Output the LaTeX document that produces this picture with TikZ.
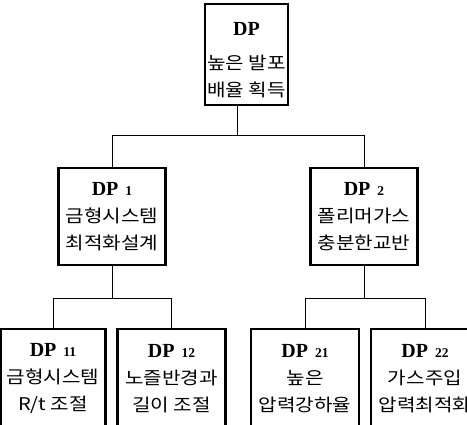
\documentclass[tikz,border=0pt]{standalone}
\usepackage{fontspec}
\setmainfont{Liberation Serif}
\newfontfamily\kr[FakeStretch=1.15]{Noto Sans CJK KR}
\newcommand{\dptitle}[1]{{\rmfamily\fontsize{20}{20}\selectfont\bfseries DP\ifx&#1&\else\hspace{7pt}{\fontsize{13.5}{13.5}\selectfont #1}\fi}}
\tikzset{
  box/.style={draw, line width=2.4pt, inner sep=0pt, align=center, anchor=north,
    font=\fontsize{17.5}{27}\selectfont\kr},
  link/.style={line width=0.9pt}
}
\begin{document}
\begin{tikzpicture}[x=1pt,y=-1pt]
\useasboundingbox (0,0) rectangle (467,425);
\node[box, minimum width=83pt, minimum height=101pt] (top) at (246.5,3)
  {\rule{0pt}{24pt}\dptitle{}\\[7pt] 높은 발포\\ 배율 획득};
\node[box, minimum width=107pt, minimum height=97pt] (dp1) at (112,167)
  {\dptitle{1}\\[0pt] 금형시스템\\ 최적화설계};
\node[box, minimum width=107pt, minimum height=97pt] (dp2) at (364,167)
  {\dptitle{2}\\[0pt] 폴리머가스\\ 충분한교반};
\node[box, minimum width=105pt, minimum height=98pt] (dp11) at (53,328)
  {\dptitle{11}\\[0pt] 금형시스템\\ R/t 조절};
\node[box, minimum width=108pt, minimum height=98pt] (dp12) at (171.5,328)
  {\dptitle{12}\\[0pt] 노즐반경과\\ 길이 조절};
\node[box, minimum width=108pt, minimum height=98pt] (dp21) at (305,328)
  {\dptitle{21}\\[0pt] 높은\\ 압력강하율};
\node[box, minimum width=108pt, minimum height=98pt] (dp22) at (425,328)
  {\dptitle{22}\\[0pt] 가스주입\\ 압력최적화};
\coordinate (j0) at (237,135);
\coordinate (j1) at (112,298);
\coordinate (j2) at (364,298);
\draw[link] (j0 |- top.south) -- (j0);
\draw[link] (dp1.north) -- (dp1.north |- j0) -- (dp2.north |- j0) -- (dp2.north);
\draw[link] (dp1.south) -- (j1);
\draw[link] (dp11.north) -- (dp11.north |- j1) -- (dp12.north |- j1) -- (dp12.north);
\draw[link] (dp2.south) -- (j2);
\draw[link] (dp21.north) -- (dp21.north |- j2) -- (dp22.north |- j2) -- (dp22.north);
\end{tikzpicture}
\end{document}
